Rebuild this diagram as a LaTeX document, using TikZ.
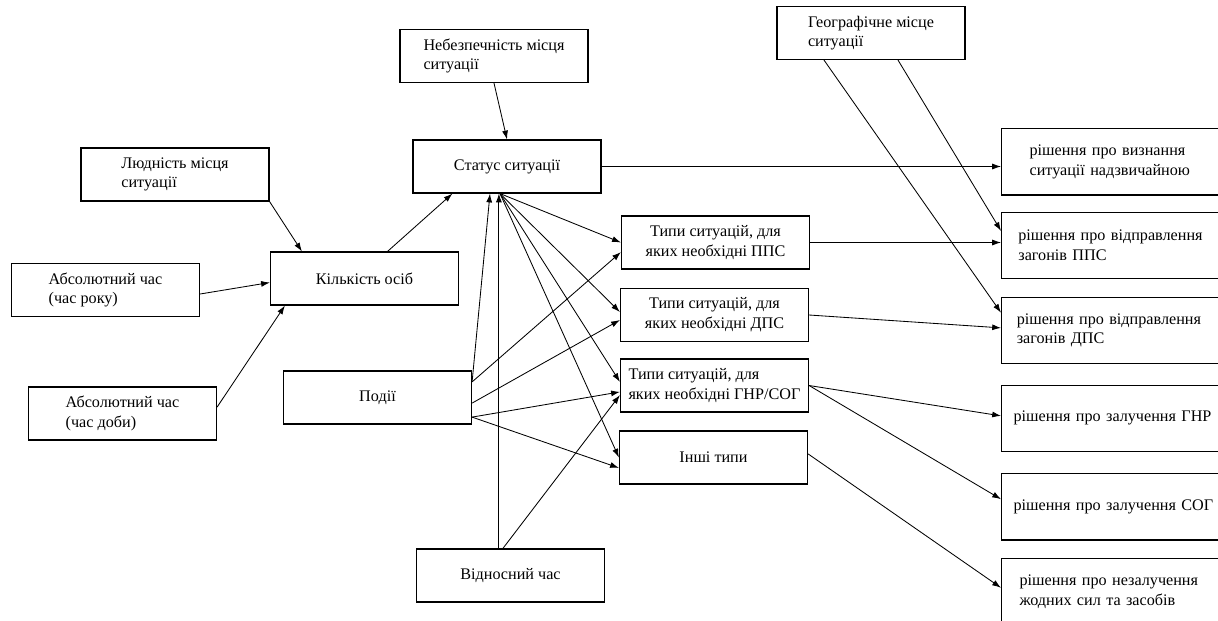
\documentclass[tikz,border=0pt]{standalone}
\usepackage{fontspec}
\setmainfont{Liberation Serif}
\usetikzlibrary{arrows.meta}

\begin{document}
\begin{tikzpicture}
[x=0.025cm,y=-0.025cm,
  boxDecorate/.style={shape=rectangle,draw,line width=0.8pt,inner sep=2pt,
    minimum width=4.7cm,minimum height=1.325cm,font=\fontsize{11.5}{14}\selectfont},
  decisionDecorate/.style={shape=rectangle,draw,line width=0.8pt,anchor=north west,
    text width=6cm,align=left,inner ysep=2pt,minimum height=1.66cm,
    font=\fontsize{11.5}{14}\selectfont},
  lineDecorate/.style={-{Latex[length=2.2mm,width=1.5mm]},line width=0.6pt}]
\useasboundingbox (0,0) rectangle (1218,620);
\clip (0,0) rectangle (1218,620);
%% nodes or boxes
\foreach \nodename/\x/\y/\al/\txt in {
  haz/494/56/left/{Небезпечність місця\\ситуації},
  status/507/166.5/center/{Статус ситуації},
  pop/175/174.5/left/{Людність місця\\ситуації},
  count/364.5/278.5/center/{Кількість осіб},
  year/105.5/290/left/{Абсолютний час\\(час року)},
  day/122.5/413.5/left/{Абсолютний час\\(час доби)},
  events/377.5/397.5/center/{Події},
  rel/510.5/575.5/center/{Відносний час},
  geo/871/33/left/{Географічне місце\\ситуації},
  tpps/715.5/242.5/center/{Типи ситуацій, для\\яких необхідні ППС},
  tdps/714.5/315/center/{Типи ситуацій, для\\яких необхідні ДПС},
  tgnr/714.5/385.5/left/{Типи ситуацій, для\\яких необхідні ГНР/СОГ},
  tother/713.5/457.5/center/{Інші типи}}
{
  \node (\nodename) at (\x,\y) [boxDecorate,align=\al] {\txt};
}
%% decisions (cut by the right edge)
\foreach \nodename/\y/\pad/\txt in {
  dEmerg/128/0.7cm/{рішення про визнання\\ситуації надзвичайною},
  dPPS/211.5/0.42cm/{рішення про відправлення\\загонів ППС},
  dDPS/296.5/0.38cm/{рішення про відправлення\\загонів ДПС},
  dGNR/384.5/0.3cm/{рішення про залучення ГНР},
  dSOG/473/0.3cm/{рішення про залучення СОГ},
  dNone/558/0.45cm/{рішення про незалучення\\жодних сил та засобів}}
{
  \node (\nodename) at (1001,\y) [decisionDecorate,inner xsep=\pad] {\txt};
}
%% points on the borders
\foreach \cname/\base/\dx/\dy in {
  fan/status.south/-0.175/0, statusIn/status.south/-0.425/0,
  statusInB/status.south west/1/0, relOut/rel.north/-0.29/0,
  relOutB/rel.north/-0.19/0, countInA/count.north west/0.8/0,
  countInB/count.west/0/-0.1, countInC/count.south west/0.375/0,
  countOut/count.north/0.575/0, yearOut/year.east/0/-0.1,
  dayOut/day.east/0/0.16, evA/events.east/0/0.39,
  evB/events.east/0/-0.14, evC/events.east/0/-0.49,
  tdpsInA/tdps.west/0/0.075, tgnrInA/tgnr.west/0/0.09,
  tppsInB/tpps.west/0/-0.24, tdpsInB/tdps.west/0/-0.125,
  tgnrInB/tgnr.west/0/-0.16, tgnrInC/tgnr.west/0/-0.24,
  totherInB/tother.west/0/-0.26, totherOut/tother.east/0/0.09,
  dpsIn/dDPS.west/0/0.06, gnrIn/dGNR.west/0/0.06,
  sogIn/dSOG.west/0/0.19, noneIn/dNone.west/0/0.1,
  geoOutA/geo.south/0.675/0, geoOutB/geo.south/-1.175/0,
  ppsInB/dPPS.west/0/0.36, dpsInB/dDPS.west/0/0.44}
{
  \coordinate (\cname) at ([xshift=\dx cm,yshift=\dy cm]\base);
}
\coordinate (relIn) at (relOut |- status.south);
\coordinate (emergIn) at (status.east -| dEmerg.west);
\coordinate (ppsIn) at (tpps.east -| dPPS.west);
%% edges or arrows
\path
\foreach \startnode/\endnode in {
  haz.south/status.north, pop.south east/countInA, yearOut/countInB,
  dayOut/countInC, countOut/statusInB, status.east/emergIn,
  fan/tpps.west, fan/tdpsInA, fan/tgnrInA, fan/tother.west,
  evA/statusIn, evA/tppsInB, evB/tdpsInB, evC/tgnrInB, evC/totherInB,
  relOut/relIn, relOutB/tgnrInC,
  tpps.east/ppsIn, tdps.east/dpsIn, tgnr.east/gnrIn, tgnr.east/sogIn,
  totherOut/noneIn, geoOutA/ppsInB, geoOutB/dpsInB}
{
  (\startnode) edge[lineDecorate] (\endnode)
};
\end{tikzpicture}
\end{document}
